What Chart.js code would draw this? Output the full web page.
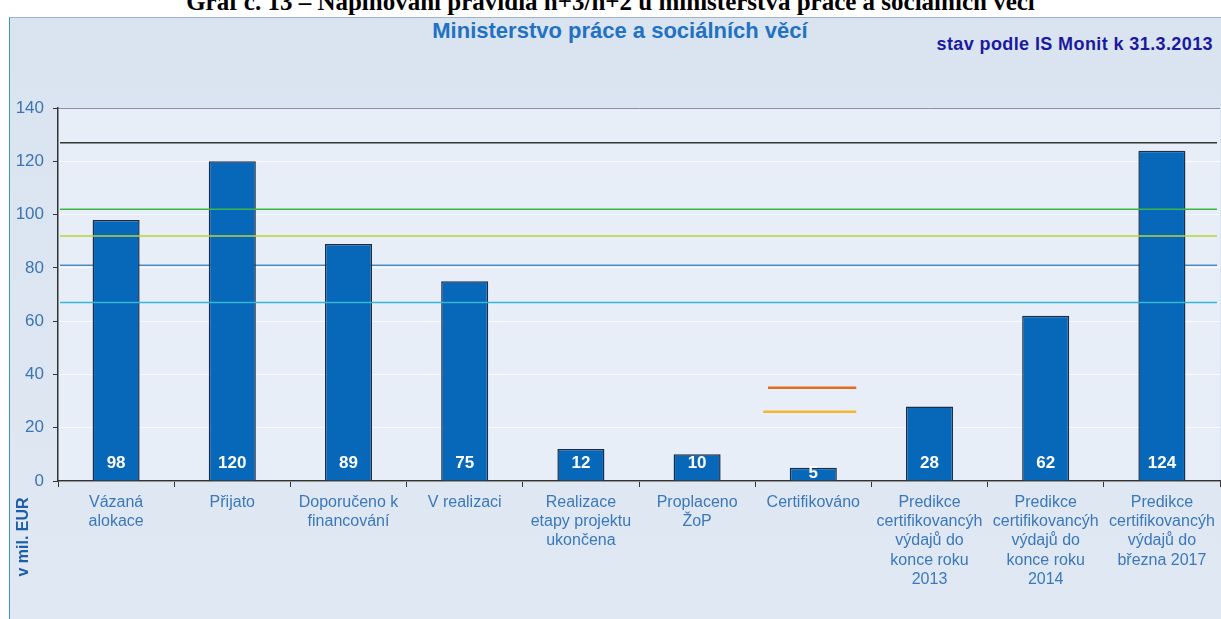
<!DOCTYPE html>
<html>
<head>
<meta charset="utf-8">
<script src="https://cdn.jsdelivr.net/npm/chart.js@4.4.1/dist/chart.umd.min.js"></script>
<style>
  body { margin: 0; background: #fff; width: 1221px; height: 619px; overflow: hidden; position: relative; font-family: "Liberation Sans", Arial, sans-serif; }
  #doc-title { position: absolute; left: 0; width: 1221px; top: -12px; text-align: center; font: bold 25px "Liberation Serif", "Times New Roman", serif; color: #000; white-space: nowrap; }
  #box { position: absolute; left: 9px; top: 17px; width: 1212px; height: 602px; background: linear-gradient(#dae4f0, #dfe8f3); border-left: 1px solid #3a9aa8; border-top: 1px solid #9fb3c8; }
  #main-title { position: absolute; left: 0; width: 1240px; top: 18px; text-align: center; font: bold 22px "Liberation Sans", Arial, sans-serif; color: #2272c3; }
  #stamp { position: absolute; right: 8px; top: 34px; font: bold 18px "Liberation Sans", Arial, sans-serif; letter-spacing: 0.4px; color: #1a1aa0; }
  #wrap { position: absolute; left: 0; top: 0; width: 1221px; height: 619px; }
</style>
</head>
<body>
<div id="doc-title">Graf č. 13 – Naplňování pravidla n+3/n+2 u ministerstva práce a sociálních věcí</div>
<div id="box"></div>
<div id="main-title">Ministerstvo práce a sociálních věcí</div>
<div id="stamp">stav podle IS Monit k 31.3.2013</div>
<div id="wrap"><canvas id="chart" width="1221" height="619"></canvas></div>
<script>
const categories = [
  ["Vázaná", "alokace"],
  ["Přijato"],
  ["Doporučeno k", "financování"],
  ["V realizaci"],
  ["Realizace", "etapy projektu", "ukončena"],
  ["Proplaceno", "ŽoP"],
  ["Certifikováno"],
  ["Predikce", "certifikovancýh", "výdajů do", "konce roku", "2013"],
  ["Predikce", "certifikovancýh", "výdajů do", "konce roku", "2014"],
  ["Predikce", "certifikovancýh", "výdajů do", "března 2017"]
];
const amounts = [98, 120, 89, 75, 12, 10, 5, 28, 62, 124];
const yTicks = [0, 20, 40, 60, 80, 100, 120, 140];

// horizontal limit lines across the whole plot
const limitValues = [127, 102, 92, 81, 67];
const limitColors = ["#2d3b33", "#3ab54a", "#b8d43a", "#4f8bbd", "#35b6d6"];
const limitBehindBars = [false, false, false, true, false];

// two short lines over the "Certifikováno" category
const certIndex = 6;
const certValues = [35, 26];
const certColors = ["#e36c1e", "#f2b630"];

const refLines = {
  id: "refLines",
  beforeDraw(chart) {
    const { ctx, chartArea: a } = chart;
    ctx.save();
    ctx.fillStyle = "#e8eef7";
    ctx.fillRect(a.left, a.top, a.right - a.left, a.bottom - a.top);
    ctx.restore();
  },
  beforeDatasetsDraw(chart) { drawLimits(chart, true); },
  afterDatasetsDraw(chart) {
    drawLimits(chart, false);
    const { ctx, scales } = chart;
    const x = scales.x, y = scales.y;
    const w = x.width / categories.length;
    const cx = x.getPixelForValue(certIndex);
    ctx.save();
    ctx.lineWidth = 2.5;
    certValues.forEach((v, i) => {
      const py = y.getPixelForValue(v);
      ctx.strokeStyle = certColors[i];
      ctx.beginPath();
      ctx.moveTo(cx - w * (i === 0 ? 0.39 : 0.43), py);
      ctx.lineTo(cx + w * 0.37, py);
      ctx.stroke();
    });
    // value labels at bar base
    const base = y.getPixelForValue(0);
    ctx.fillStyle = "#fff";
    ctx.font = "bold 17px 'Liberation Sans', Arial, sans-serif";
    ctx.textAlign = "center";
    ctx.textBaseline = "middle";
    chart.getDatasetMeta(0).data.forEach((bar, i) => {
      ctx.fillText(String(amounts[i]), bar.x, Math.max(base - 18, bar.y + 6));
    });
    // axis title below the zero line
    ctx.translate(24, 537);
    ctx.rotate(-Math.PI / 2);
    ctx.fillStyle = "#1e5ea8";
    ctx.font = "bold 16px 'Liberation Sans', Arial, sans-serif";
    ctx.fillText("v mil. EUR", 0, 0);
    ctx.restore();
  }
};

function drawLimits(chart, behind) {
  const { ctx, chartArea: a, scales } = chart;
  ctx.save();
  ctx.lineWidth = 1.5;
  limitValues.forEach((v, i) => {
    if (limitBehindBars[i] !== behind) return;
    const py = scales.y.getPixelForValue(v);
    ctx.strokeStyle = limitColors[i];
    ctx.beginPath();
    ctx.moveTo(a.left + 2, py);
    ctx.lineTo(a.right - 3, py);
    ctx.stroke();
  });
  ctx.restore();
}

new Chart(document.getElementById("chart"), {
  type: "bar",
  data: {
    labels: categories,
    datasets: [{
      data: amounts,
      backgroundColor: "#0767b9",
      borderColor: "#1b2d48",
      borderWidth: 1.5,
      barPercentage: 0.405,
      categoryPercentage: 1
    }]
  },
  options: {
    responsive: false,
    animation: false,
    layout: { padding: { left: 10, right: 1, top: 108, bottom: 0 } },
    plugins: { legend: { display: false }, tooltip: { enabled: false } },
    scales: {
      x: {
        afterFit(s) { s.height = 138; },
        border: { color: "#333", width: 1.5 },
        grid: { drawOnChartArea: false, tickLength: 6, tickColor: "#333", offset: true },
        ticks: {
          autoSkip: false, maxRotation: 0, padding: 6,
          color: "#3b78bb",
          font: { family: "'Liberation Sans', Arial, sans-serif", size: 16, lineHeight: 1.2 }
        }
      },
      y: {
        min: 0, max: 140,
        afterFit(s) { s.width = 48; },
        afterBuildTicks(s) { s.ticks = yTicks.map(v => ({ value: v })); },
        border: { color: "#333", width: 1.5 },
        grid: {
          tickLength: 5, tickColor: "#333",
          color: c => c.tick && c.tick.value === 140 ? "#8a939c" : "rgba(255,255,255,0.7)"
        },
        ticks: {
          padding: 9, color: "#3d74b2",
          font: { family: "'Liberation Sans', Arial, sans-serif", size: 17 }
        }
      }
    }
  },
  plugins: [refLines]
});
</script>
</body>
</html>
